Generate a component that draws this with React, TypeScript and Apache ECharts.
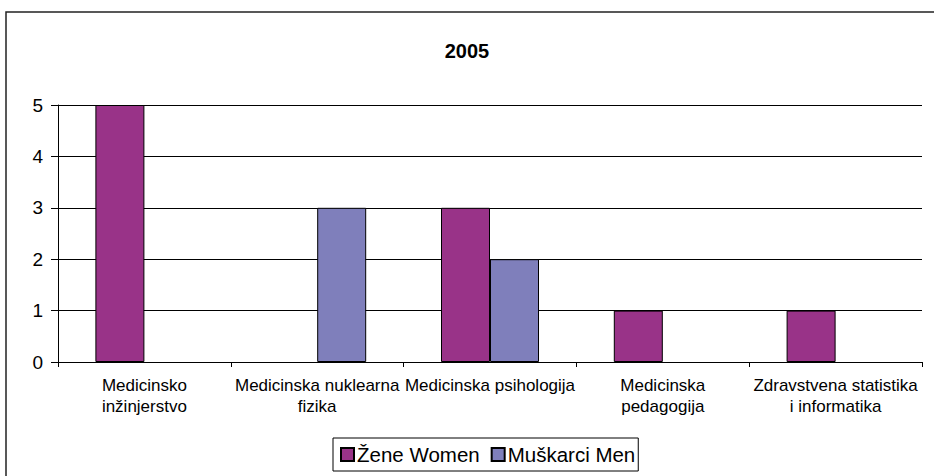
import React, { useEffect, useRef } from "react";
import * as echarts from "echarts";

const categories = [
  "Medicinsko\ninžinjerstvo",
  "Medicinska nuklearna\nfizika",
  "Medicinska psihologija",
  "Medicinska\npedagogija",
  "Zdravstvena statistika\ni informatika",
];
const women = [5, 0, 3, 1, 1];
const men = [0, 3, 2, 0, 0];
const seriesNames = ["Žene Women", "Muškarci Men"];
const titleText = "2005";

const FONT = "Liberation Sans, Arial, sans-serif";

export default function App() {
  const ref = useRef<HTMLDivElement>(null);
  useEffect(() => {
    if (!ref.current) return;
    const chart = echarts.init(ref.current, null, { renderer: "svg" });
    const barStyle = (color: string) => ({
      color,
      borderColor: "#000",
      borderWidth: 1,
    });
    const nz = (arr: number[]) => arr.map((v) => (v === 0 ? null : v));
    chart.setOption({
      animation: false,
      backgroundColor: "#fff",
      title: {
        text: titleText,
        left: "center",
        top: 36,
        textStyle: { fontFamily: FONT, fontSize: 20, fontWeight: "bold", color: "#000" },
      },
      graphic: [
        {
          type: "rect",
          shape: { x: 6, y: 12, width: 960, height: 500 },
          style: { fill: "none", stroke: "#222", lineWidth: 1.5 },
          silent: true,
        },
      ],
      legend: {
        data: seriesNames,
        left: 333,
        top: 438,
        itemWidth: 13,
        itemHeight: 13,
        itemGap: 11,
        padding: [6, 3, 6, 7],
        borderColor: "#000",
        borderWidth: 1,
        icon: "rect",
        textStyle: { fontFamily: FONT, fontSize: 20.5, color: "#000", padding: [0, 0, 0, -2] },
      },
      grid: { left: 58, right: 12, top: 105, bottom: 114, containLabel: false },
      xAxis: {
        type: "category",
        data: categories,
        boundaryGap: true,
        axisLine: { lineStyle: { color: "#000", width: 1 } },
        axisTick: { show: true, length: 5, lineStyle: { color: "#000" } },
        axisLabel: {
          interval: 0,
          margin: 13,
          fontFamily: FONT,
          fontSize: 17,
          lineHeight: 21,
          color: "#000",
          align: "center",
        },
      },
      yAxis: {
        type: "value",
        min: 0,
        max: 5,
        interval: 1,
        axisLine: { show: true, lineStyle: { color: "#000", width: 1 } },
        axisTick: { show: true, length: 7, lineStyle: { color: "#000" } },
        splitLine: { show: true, lineStyle: { color: "#000", width: 1 } },
        axisLabel: { fontFamily: FONT, fontSize: 19, color: "#000", margin: 15 },
      },
      series: [
        {
          name: seriesNames[0],
          type: "bar",
          data: nz(women),
          barWidth: 49,
          barGap: "0%",
          itemStyle: barStyle("#993388"),
        },
        {
          name: seriesNames[1],
          type: "bar",
          data: nz(men),
          barWidth: 49,
          barGap: "0%",
          itemStyle: barStyle("#7f7fbb"),
        },
      ],
    });
    return () => chart.dispose();
  }, []);
  return <div ref={ref} style={{ width: 934, height: 476, position: "absolute", left: 0, top: 0 }} />;
}
